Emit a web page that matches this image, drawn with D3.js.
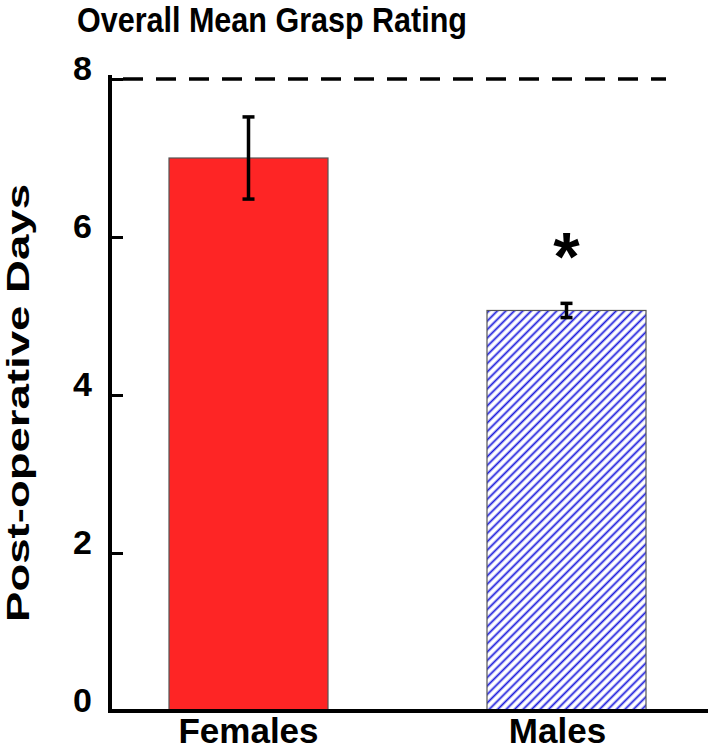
<!DOCTYPE html>
<html>
<head>
<meta charset="utf-8">
<script src="https://cdn.jsdelivr.net/npm/d3@7"></script>
<style>
  html, body { margin: 0; padding: 0; background: #fff; }
  svg { display: block; }
  text { font-family: "Liberation Sans", Arial, sans-serif; font-weight: bold; fill: #000; }
</style>
</head>
<body>
<svg id="chart" width="708" height="750"></svg>
<script>
const categories = ["Females", "Males"];
const means = [7.0, 5.07];
const errors = [0.52, 0.09];
const yTicks = [0, 2, 4, 6, 8];
const refLine = 8;
const significance = ["", "*"];
const title = "Overall Mean Grasp Rating";
const yLabel = "Post-operative Days";

const svg = d3.select("#chart");

const y = d3.scaleLinear().domain([0, 8]).range([711, 79]);
const x = d3.scaleBand().domain(categories).range([169, 646]).paddingInner(0.5).paddingOuter(0);

// hatch pattern
const defs = svg.append("defs");
const pat = defs.append("pattern")
  .attr("id", "hatch")
  .attr("patternUnits", "userSpaceOnUse")
  .attr("width", 6).attr("height", 6)
  .attr("patternTransform", "rotate(45)");
pat.append("rect").attr("width", 6).attr("height", 6).attr("fill", "#fff");
pat.append("line")
  .attr("x1", 1.5).attr("y1", -1).attr("x2", 1.5).attr("y2", 7)
  .attr("stroke", "#1c1cdc").attr("stroke-width", 1.8);

const fills = ["#fe2525", "url(#hatch)"];

// dashed reference line
svg.append("line")
  .attr("x1", 123).attr("x2", 666)
  .attr("y1", y(refLine)).attr("y2", y(refLine))
  .attr("stroke", "#000").attr("stroke-width", 3.5)
  .attr("stroke-dasharray", "20,13");

// bars
svg.selectAll("rect.bar").data(categories).join("rect")
  .attr("class", "bar")
  .attr("x", d => x(d))
  .attr("width", x.bandwidth())
  .attr("y", (d, i) => y(means[i]))
  .attr("height", (d, i) => y(0) - y(means[i]))
  .attr("fill", (d, i) => fills[i])
  .attr("stroke", "#555").attr("stroke-width", 1.2);

// error bars
categories.forEach((c, i) => {
  const cx = x(c) + x.bandwidth() / 2;
  const g = svg.append("g").attr("stroke", "#000").attr("stroke-width", 3.5);
  g.append("line").attr("x1", cx).attr("x2", cx)
    .attr("y1", y(means[i] + errors[i])).attr("y2", y(means[i] - errors[i]));
  [means[i] + errors[i], means[i] - errors[i]].forEach(v => {
    g.append("line").attr("x1", cx - 6).attr("x2", cx + 6)
      .attr("y1", y(v)).attr("y2", y(v));
  });
  if (significance[i]) {
    svg.append("text")
      .attr("x", cx).attr("y", y(means[i] + errors[i]) - 23)
      .attr("text-anchor", "middle")
      .attr("font-size", 68)
      .text(significance[i]);
  }
});

// y axis ticks and labels
const yAxis = d3.axisLeft(y).tickValues(yTicks).tickFormat(d3.format("d"))
  .tickSizeInner(-13).tickSizeOuter(0).tickPadding(18);
const ya = svg.append("g").attr("transform", "translate(110,0)").call(yAxis);
ya.select(".domain").remove();
ya.selectAll(".tick line").attr("stroke", "#000").attr("stroke-width", 3);
ya.selectAll(".tick text")
  .attr("font-size", 34).attr("font-family", "Liberation Sans, Arial, sans-serif")
  .attr("font-weight", "bold").attr("fill", "#000")
  .attr("dy", "0.02em");

// axis lines
svg.append("line").attr("x1", 110).attr("x2", 110).attr("y1", 75).attr("y2", 713)
  .attr("stroke", "#000").attr("stroke-width", 4);
svg.append("line").attr("x1", 108).attr("x2", 708).attr("y1", 711).attr("y2", 711)
  .attr("stroke", "#000").attr("stroke-width", 4);

// x labels
const xAxis = d3.axisBottom(x).tickSize(0).tickPadding(0);
const xa = svg.append("g").attr("transform", "translate(0,711)").call(xAxis);
xa.select(".domain").remove();
xa.selectAll(".tick text")
  .attr("font-size", 35).attr("font-family", "Liberation Sans, Arial, sans-serif")
  .attr("font-weight", "bold").attr("fill", "#000")
  .attr("y", 32).attr("dy", 0)
  .attr("dx", (d, i) => i === 1 ? -9 : 0);

// title
svg.append("text")
  .attr("x", 272).attr("y", 32)
  .attr("text-anchor", "middle")
  .attr("font-size", 35)
  .attr("textLength", 390).attr("lengthAdjust", "spacingAndGlyphs")
  .text(title);

// y label
svg.append("text")
  .attr("transform", "translate(29,403) rotate(-90)")
  .attr("text-anchor", "middle")
  .attr("font-size", 31)
  .attr("textLength", 438).attr("lengthAdjust", "spacingAndGlyphs")
  .text(yLabel);
</script>
</body>
</html>
